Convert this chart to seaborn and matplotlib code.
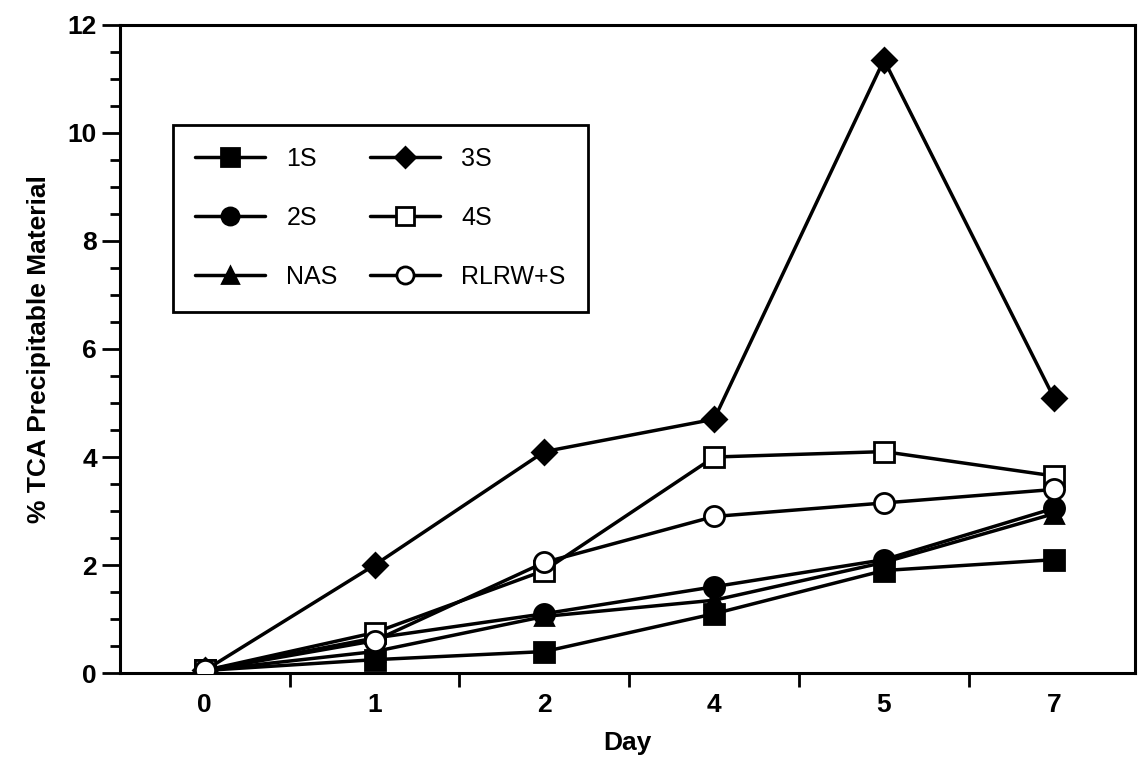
import numpy as np
import pandas as pd
import matplotlib
matplotlib.use("Agg")
import matplotlib.pyplot as plt
import seaborn as sns
from matplotlib.ticker import MultipleLocator, FixedLocator

days = ["0", "1", "2", "4", "5", "7"]
s1 = [0.05, 0.25, 0.4, 1.1, 1.9, 2.1]
s2 = [0.05, 0.65, 1.1, 1.6, 2.1, 3.05]
nas = [0.05, 0.4, 1.05, 1.35, 2.05, 2.95]
s3 = [0.05, 2.0, 4.1, 4.7, 11.35, 5.1]
s4 = [0.05, 0.75, 1.9, 4.0, 4.1, 3.65]
rlrw = [0.05, 0.6, 2.05, 2.9, 3.15, 3.4]

series = [
    ("1S", s1, "s", "black"),
    ("2S", s2, "o", "black"),
    ("NAS", nas, "^", "black"),
    ("3S", s3, "D", "black"),
    ("4S", s4, "s", "white"),
    ("RLRW+S", rlrw, "o", "white"),
]

sns.set_theme(style="white")
plt.rcParams["font.family"] = ["Liberation Sans", "DejaVu Sans"]
plt.rcParams["text.color"] = "black"
plt.rcParams["axes.labelcolor"] = "black"
plt.rcParams["xtick.color"] = "black"
plt.rcParams["ytick.color"] = "black"

fig = plt.figure(figsize=(11.41, 7.72), dpi=100)
ax = fig.add_axes([0.105, 0.128, 0.89, 0.84])

xpos = np.arange(len(days))
for name, vals, mk, fc in series:
    sizes = {"D": 12, "^": 13}.get(mk, 14.5)
    sns.lineplot(x=xpos, y=vals, ax=ax, color="black", lw=2.5,
                 marker=mk, markersize=sizes, markerfacecolor=fc,
                 markeredgecolor="black", markeredgewidth=2,
                 label=name, zorder=3 if fc == "white" else 2)

ax.set_xlim(-0.5, 5.48)
ax.set_ylim(0, 12)
ax.xaxis.set_major_locator(FixedLocator(xpos + 0.5))
ax.xaxis.set_minor_locator(FixedLocator(xpos))
ax.set_xticklabels([])
ax.set_xticklabels(days, minor=True)
ax.tick_params(axis="x", which="major", direction="out", length=10, width=2, bottom=True, colors="black")
ax.tick_params(axis="x", which="minor", length=0, pad=14, labelsize=19, labelcolor="black")
for t in ax.get_xticklabels(minor=True):
    t.set_fontweight("bold")

ax.yaxis.set_major_locator(MultipleLocator(2))
ax.yaxis.set_minor_locator(MultipleLocator(0.5))
ax.tick_params(axis="y", which="major", direction="out", length=13, width=2, left=True, labelsize=19, colors="black")
ax.tick_params(axis="y", which="minor", direction="out", length=7, width=2, left=True, colors="black")
for t in ax.get_yticklabels():
    t.set_fontweight("bold")

for side in ["left", "bottom", "top", "right"]:
    ax.spines[side].set_visible(True)
    ax.spines[side].set_linewidth(2.2)
    ax.spines[side].set_color("black")

ax.set_xlabel("Day", fontsize=19, fontweight="bold", labelpad=10, color="black")
ax.set_ylabel("% TCA Precipitable Material", fontsize=19, fontweight="bold", labelpad=12, color="black")

leg = ax.legend(loc="upper left", bbox_to_anchor=(0.052, 0.846), borderaxespad=0,
                ncol=2, fontsize=18, frameon=True, fancybox=False, framealpha=1,
                handlelength=2.8, handletextpad=0.85, columnspacing=1.3,
                labelspacing=1.4, borderpad=0.9, edgecolor="black",
                markerscale=0.85)
leg.get_frame().set_linewidth(2)
leg.get_frame().set_edgecolor("black")
for t in leg.get_texts():
    t.set_color("black")

fig.savefig("out.png", dpi=100, facecolor="white")
